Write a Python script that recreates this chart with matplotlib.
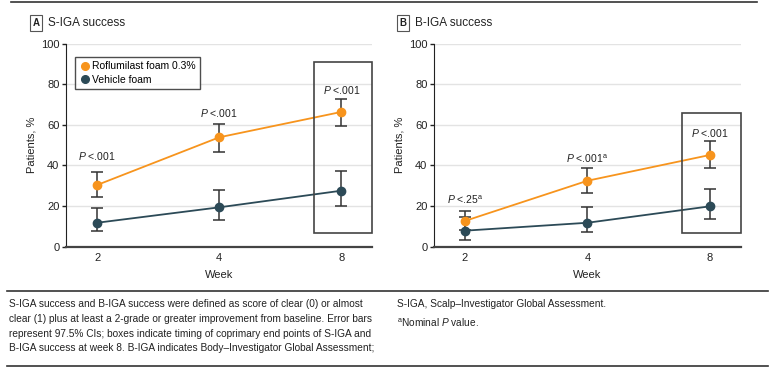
import matplotlib
matplotlib.use("Agg")
import matplotlib.pyplot as plt
from matplotlib.patches import Rectangle
from matplotlib.lines import Line2D

plt.rcParams['font.family'] = ['Liberation Sans', 'DejaVu Sans']
plt.rcParams['mathtext.fontset'] = 'custom'
plt.rcParams['mathtext.rm'] = 'Liberation Sans'
plt.rcParams['mathtext.it'] = 'Liberation Sans:italic'

weeks = ['2', '4', '8']

# Panel A: S-IGA success (%), with 97.5% CI
a_rof = [30.3, 53.8, 66.3]
a_rof_lo = [24.4, 46.7, 59.2]
a_rof_hi = [36.8, 60.2, 72.5]
a_veh = [11.7, 19.3, 27.5]
a_veh_lo = [7.5, 13.1, 20.1]
a_veh_hi = [19.1, 28.0, 37.0]
a_pvals = ['$P$ <.001', '$P$ <.001', '$P$ <.001']
a_pval_y = [44.7, 65.9, 77.2]

# Panel B: B-IGA success (%), with 97.5% CI
b_rof = [12.6, 32.4, 45.1]
b_rof_lo = [8.0, 26.4, 38.7]
b_rof_hi = [17.5, 38.8, 52.0]
b_veh = [7.8, 11.7, 19.8]
b_veh_lo = [3.4, 7.0, 13.4]
b_veh_hi = [14.7, 19.3, 28.5]
b_pvals = ['$P$ <.25$^{\\mathrm{a}}$', '$P$ <.001$^{\\mathrm{a}}$', '$P$ <.001']
b_pval_y = [23.2, 43.4, 55.8]

orange = '#F7941D'
teal = '#2C4A57'
dark = '#333333'

fig = plt.figure(figsize=(7.74, 3.76), dpi=100)


def panel(rect, xlim, rof, rof_lo, rof_hi, veh, veh_lo, veh_hi, pvals, pval_y, box, legend):
    ax = fig.add_axes(rect)
    x = range(len(weeks))
    for ys, lo, hi, col in [(veh, veh_lo, veh_hi, teal), (rof, rof_lo, rof_hi, orange)]:
        err = [[y - l for y, l in zip(ys, lo)], [h - y for y, h in zip(ys, hi)]]
        line, caps, bars = ax.errorbar(x, ys, yerr=err, color=col, ecolor=dark, elinewidth=1.1,
                                       capsize=4, capthick=1.1, marker='o', markersize=6,
                                       linewidth=1.3, clip_on=False, zorder=3)
        for c in caps:
            c.set_color(col)
        for b in bars:
            b.set_zorder(2)
    for xi, t, yy in zip(x, pvals, pval_y):
        ax.text(xi, yy, t, ha='center', va='center', fontsize=7.5, color='#222222')
    ax.add_patch(Rectangle((box[0], box[1]), box[2] - box[0], box[3] - box[1],
                           fill=False, edgecolor='#444444', linewidth=1.2, clip_on=False, zorder=4))
    ax.set_xlim(*xlim)
    ax.set_ylim(0, 100)
    ax.set_yticks(range(0, 101, 20))
    ax.set_xticks(list(x))
    ax.set_xticklabels(weeks)
    ax.tick_params(axis='x', length=0, pad=5, labelsize=8, colors='#222222')
    ax.tick_params(axis='y', length=3, width=1, pad=1.5, labelsize=8, colors='#222222')
    ax.grid(axis='y', color='#E3E3E3', linewidth=1)
    ax.set_axisbelow(True)
    for s in ['top', 'right']:
        ax.spines[s].set_visible(False)
    ax.spines['left'].set_color('#222222')
    ax.spines['bottom'].set_color('#444444')
    ax.spines['bottom'].set_linewidth(1.6)
    ax.set_xlabel('Week', fontsize=8, color='#222222', labelpad=5)
    ax.set_ylabel('Patients, %', fontsize=8, color='#222222', labelpad=3)
    if legend:
        handles = [Line2D([], [], color=orange, marker='o', linestyle='none', markersize=5.5),
                   Line2D([], [], color=teal, marker='o', linestyle='none', markersize=5.5)]
        leg = ax.legend(handles, ['Roflumilast foam 0.3%', 'Vehicle foam'], loc='upper left',
                        bbox_to_anchor=(0.02, 0.95), fontsize=7.5, frameon=True, fancybox=False,
                        handletextpad=0.2, borderpad=0.45, labelspacing=0.3, handlelength=1.0,
                        borderaxespad=0.3)
        leg.get_frame().set_edgecolor('#222222')
        leg.get_frame().set_linewidth(1.0)
    return ax


panel([0.0849, 0.3444, 0.3957, 0.5399], (-0.257, 2.25),
      a_rof, a_rof_lo, a_rof_hi, a_veh, a_veh_lo, a_veh_hi, a_pvals, a_pval_y,
      (1.773, 6.8, 2.25, 91.0), True)
panel([0.5603, 0.3444, 0.3966, 0.5399], (-0.2555, 2.25),
      b_rof, b_rof_lo, b_rof_hi, b_veh, b_veh_lo, b_veh_hi, b_pvals, b_pval_y,
      (1.77, 6.8, 2.25, 65.6), False)

# panel titles
for px, letter, title in [(30, 'A', 'S-IGA success'), (397, 'B', 'B-IGA success')]:
    fig.text((px + 6) / 774, 1 - 23 / 376, letter, ha='center', va='center', fontsize=7,
             fontweight='bold', color='#222222',
             bbox=dict(boxstyle='square,pad=0.3', fc='white', ec='#555555', lw=0.8))
    fig.text((px + 18) / 774, 1 - 23 / 376, title, ha='left', va='center', fontsize=8.5,
             color='#222222')

# rules
fig.add_artist(Line2D([11 / 774, 757 / 774], [1 - 1.5 / 376, 1 - 1.5 / 376], color='#333333', lw=1.2))
fig.add_artist(Line2D([7 / 774, 768 / 774], [1 - 291 / 376, 1 - 291 / 376], color='#333333', lw=1.2))
fig.add_artist(Line2D([7 / 774, 768 / 774], [1 - 366 / 376, 1 - 366 / 376], color='#333333', lw=1.2))

notes_left = ('S-IGA success and B-IGA success were defined as score of clear (0) or almost\n'
              'clear (1) plus at least a 2-grade or greater improvement from baseline. Error bars\n'
              'represent 97.5% CIs; boxes indicate timing of coprimary end points of S-IGA and\n'
              'B-IGA success at week 8. B-IGA indicates Body\u2013Investigator Global Assessment;')
fig.text(9 / 774, 1 - 299 / 376, notes_left, ha='left', va='top', fontsize=7.3,
         color='#222222', linespacing=1.6)
fig.text(397 / 774, 1 - 299 / 376, 'S-IGA, Scalp\u2013Investigator Global Assessment.',
         ha='left', va='top', fontsize=7.3, color='#222222')
fig.text(397 / 774, 1 - 317 / 376, '$^{\\mathrm{a}}$Nominal $P$ value.',
         ha='left', va='top', fontsize=7.3, color='#222222')

fig.savefig('out.png', dpi=100, facecolor='white')
